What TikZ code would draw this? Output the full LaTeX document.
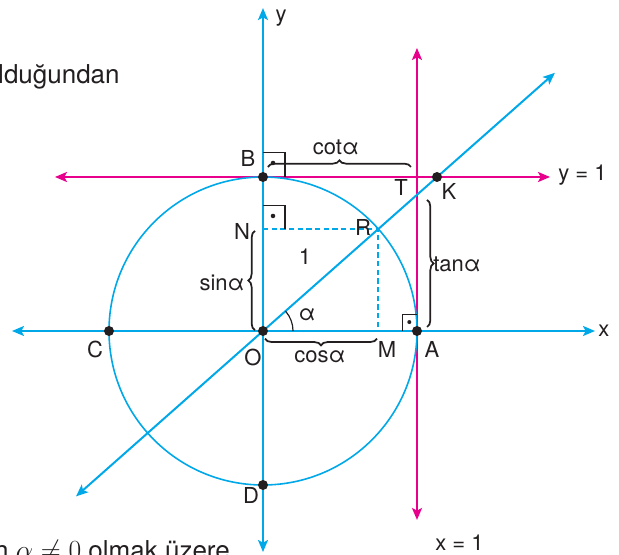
\documentclass[tikz,border=0pt]{standalone}
\usepackage{fontspec}
\setmainfont{TeX Gyre Heros}
\usepackage{xcolor}
\usepackage{tikz}
\usetikzlibrary{arrows.meta,decorations.pathreplacing}
\definecolor{axcyan}{RGB}{0,168,232}
\definecolor{linemag}{RGB}{232,0,140}
\definecolor{ink}{RGB}{35,31,32}

\begin{document}
\begin{tikzpicture}[x=115.5pt,y=115.5pt,axis/.style={draw=axcyan,line width=1.5pt,{Stealth[length=9pt,width=7.5pt,inset=2pt]}-{Stealth[length=9pt,width=7.5pt,inset=2pt]}},unitline/.style={axis,draw=linemag},dot/.style={circle,fill=ink,inner sep=0pt,minimum size=7.5pt},lbl/.style={inner sep=0pt,text=ink,font=\fontsize{16.5}{19}\selectfont},txt/.style={inner sep=0pt,text=ink,font=\fontsize{19.5}{23}\selectfont},brc/.style={draw=ink,line width=1.3pt,decorate,decoration={brace,amplitude=5pt}},rightmark/.style={draw=ink,line width=0.8pt}]
\useasboundingbox (-1.7078,-1.4545) rectangle (2.3117,2.1494);
% axes and the two unit lines
\coordinate (xl) at (-1.63,0); \coordinate (xr) at (2.156,0);
\coordinate (yb) at (0,-1.435); \coordinate (yt) at (0,2.097);
\coordinate (hl) at (-1.351,1); \coordinate (hr) at (1.864,1);
\coordinate (vb) at (1,-1.227); \coordinate (vt) at (1,1.838);
\coordinate (dl) at (-1.214,-1.074); \coordinate (dr) at (1.896,1.677);
\draw[unitline] (hl)--(hr);
\draw[unitline] (vb)--(vt);
\draw[axis] (xl)--(xr);
\draw[axis] (yb)--(yt);
\draw[axis] (dl)--(dr);
\draw[axcyan,line width=1.2pt] (0,0) circle (1);
% points
\coordinate (O) at (0,0);
\coordinate (R) at (0.749,0.663);
\coordinate (M) at (0.749,0);
\coordinate (N) at (0,0.663);
\coordinate (T) at (1,0.885);
\draw[axcyan,line width=1.5pt,dash pattern=on 4pt off 2.5pt] (N)--(R)--(M);
\draw[ink,line width=0.9pt] (0.195,0) arc (0:41.5:0.195);
% right angle marks
\draw[rightmark] (0,1.162)--(0.143,1.162)--(0.143,1);
\draw[rightmark] (0,0.812)--(0.143,0.812)--(0.143,0.663);
\draw[rightmark] (0.903,0)--(0.903,0.110)--(1,0.110);
\fill[ink] (0.065,1.091) circle (1.7pt) (0.065,0.747) circle (1.7pt) (0.950,0.058) circle (1.5pt);
% braces
\draw[brc] (0.032,1.065)--(0.961,1.065);
\draw[brc] (-0.052,0.005)--(-0.052,0.65);
\draw[brc] (0.74,-0.05)--(0.013,-0.05);
\draw[brc] (1.065,0.851)--(1.065,0.026);
% dots
\node[dot] (o) at (O) {};
\node[dot] (a) at (1,0) {};
\node[dot] (b) at (0,1) {};
\node[dot] (c) at (-1,0) {};
\node[dot] (d) at (0,-1) {};
\node[dot] (k) at (1.130,1) {};
% labels
\node[lbl] (ylab) at (0.117,2.032) {y};
\node[lbl] (xlab) at (2.214,0) {x};
\node[lbl,anchor=west] (yone) at (1.916,1.013) {y = 1};
\node[lbl,anchor=west] (xone) at (1.117,-1.377) {x = 1};
\node[lbl] (blab) at (-0.097,1.123) {B};
\node[lbl] (cotlab) at (0.474,1.195) {cotα};
\node[lbl] (tlab) at (0.896,0.935) {T};
\node[lbl] (klab) at (1.208,0.903) {K};
\node[lbl] (nlab) at (-0.136,0.643) {N};
\node[lbl] (rlab) at (0.649,0.669) {R};
\node[lbl] (onelab) at (0.273,0.481) {1};
\node[lbl] (sinlab) at (-0.266,0.312) {sinα};
\node[lbl] (tanlab) at (1.260,0.435) {tanα};
\node[lbl] (alab) at (0.286,0.104) {α};
\node[lbl] (clab) at (-1.091,-0.123) {C};
\node[lbl] (olab) at (-0.065,-0.169) {O};
\node[lbl] (coslab) at (0.370,-0.169) {cosα};
\node[lbl] (mlab) at (0.805,-0.117) {M};
\node[lbl] (alab2) at (1.097,-0.117) {A};
\node[lbl] (dlab) at (-0.078,-1.071) {D};
% running text cut by the frame
\node[txt,anchor=base west] (toptext) at (-1.721,1.610) {lduğundan};
\node[txt,anchor=base west] (bottext) at (-1.747,-1.487) {n $\alpha\neq0$ olmak üzere};
\end{tikzpicture}
\end{document}
